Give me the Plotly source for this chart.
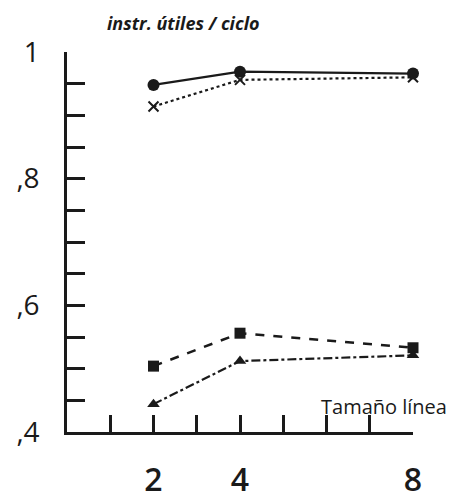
import plotly.graph_objects as go

# Data
line_sizes = [2, 4, 8]
serie_circulo = [0.948, 0.969, 0.966]
serie_cruz = [0.914, 0.956, 0.960]
serie_cuadrado = [0.504, 0.556, 0.533]
serie_triangulo = [0.444, 0.512, 0.521]

y_tick_vals = [0.4, 0.45, 0.5, 0.55, 0.6, 0.65, 0.7, 0.75, 0.8, 0.85, 0.9, 0.95, 1.0]
y_tick_text = [",4", "", "", "", ",6", "", "", "", ",8", "", "", "", "1"]
x_tick_vals = [1, 2, 3, 4, 5, 6, 7, 8]
x_tick_text = ["", "2", "", "4", "", "", "", "8"]

INK = "#1a1a1a"
FONT = "Open Sans"

fig = go.Figure()

def add(y, dash, symbol, size, width):
    fig.add_trace(go.Scatter(
        x=line_sizes, y=y, mode="lines+markers", cliponaxis=False,
        line=dict(color=INK, width=width, dash=dash),
        marker=dict(symbol=symbol, size=size, color=INK,
                    line=dict(color=INK, width=2 if "open" in symbol or "thin" in symbol else 0)),
        showlegend=False,
    ))

add(serie_circulo, "solid", "circle", 12, 2.2)
add(serie_cruz, "dot", "x-thin-open", 10, 2.2)
add(serie_cuadrado, "dash", "square", 11, 2.5)
add(serie_triangulo, "dashdot", "triangle-up", 11, 2.2)

# page body has an 8px margin, so the figure is offset by 8px
W, H = 454, 491
L, T, R, B = 59, 44, 49, 67
PW = W - L - R

fig.update_layout(
    width=W, height=H,
    margin=dict(l=L, r=R, t=T, b=B, autoexpand=False),
    paper_bgcolor="white", plot_bgcolor="white",
    font=dict(family=FONT, color=INK),
    xaxis=dict(range=[0, 8], showgrid=False, zeroline=False, automargin=False,
               showline=True, linecolor=INK, linewidth=2.5,
               ticks="inside", ticklen=17, tickwidth=2.5, tickcolor=INK,
               tickvals=x_tick_vals, ticktext=x_tick_text,
               ticklabelstandoff=18,
               tickfont=dict(size=32, family=FONT, weight=600, color=INK)),
    yaxis=dict(range=[0.4, 1.0], showgrid=False, zeroline=False, automargin=False,
               showline=True, linecolor=INK, linewidth=2.5,
               ticks="inside", ticklen=18, tickwidth=2.5, tickcolor=INK,
               tickvals=y_tick_vals, ticktext=y_tick_text,
               ticklabelstandoff=19,
               tickfont=dict(size=28, family=FONT, weight=500, color=INK)),
    annotations=[
        dict(text="Tamaño línea", xref="paper", yref="y", x=(441 - L) / PW, y=0.44,
             xanchor="right", yanchor="middle", showarrow=False,
             font=dict(size=20, family=FONT, color=INK)),
        dict(text="<b><i>instr. útiles / ciclo</i></b>", xref="paper", yref="paper",
             x=(175 - L) / PW, y=1.0, yshift=T - 1, xanchor="center", yanchor="top",
             showarrow=False, font=dict(size=18, family=FONT, color=INK)),
    ],
)

fig.write_html("out.html")
